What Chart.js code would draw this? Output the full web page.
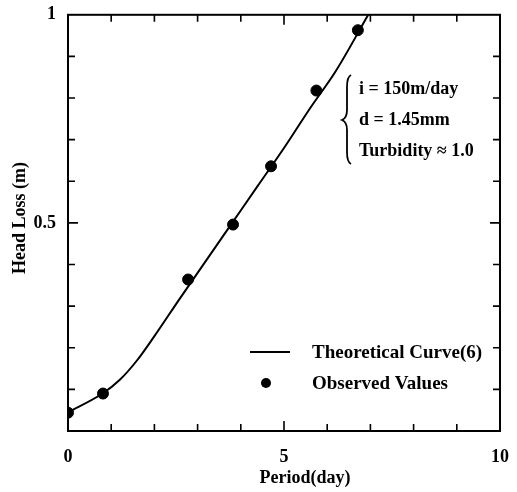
<!DOCTYPE html>
<html>
<head>
<meta charset="utf-8">
<script src="https://cdn.jsdelivr.net/npm/chart.js@4/dist/chart.umd.min.js"></script>
<style>
html, body { margin: 0; padding: 0; background: #fff; }
</style>
</head>
<body>
<canvas id="myChart" width="517" height="492"></canvas>
<script>
// theoretical curve (6)
var curveDays = [0, 0.8, 1.2, 1.6, 2.0, 2.6, 3.2, 3.8, 4.4, 5.0, 5.6, 6.2, 6.95];
var curveHeadLoss = [0.045, 0.09, 0.123, 0.17, 0.228, 0.32, 0.41, 0.5, 0.59, 0.68, 0.775, 0.865, 1.0];
// observed values
var obsDays = [0.0, 0.81, 2.78, 3.82, 4.7, 5.75, 6.71];
var obsHeadLoss = [0.044, 0.09, 0.364, 0.496, 0.636, 0.818, 0.963];

var xTickLabels = [0, 5, 10];
var yTickLabels = [0.5, 1];
var xTitle = 'Period(day)';
var yTitle = 'Head Loss (m)';
var noteLines = ["i = 150m/day", "d = 1.45mm", "Turbidity \u2248 1.0"];

var FONT = "'Liberation Serif', 'DejaVu Serif', serif";

function toPoints(xs, ys) {
    return xs.map(function (x, i) { return { x: x, y: ys[i] }; });
}

var framePlugin = {
    id: 'frame',
    afterDraw: function (chart) {
        var ctx = chart.ctx;
        var a = chart.chartArea;
        var xs = chart.scales.x, ys = chart.scales.y;
        ctx.save();
        ctx.strokeStyle = '#000';
        ctx.lineWidth = 2;
        ctx.strokeRect(a.left, a.top, a.right - a.left, a.bottom - a.top);

        // inward ticks on all four sides
        ctx.lineWidth = 1.6;
        ctx.beginPath();
        for (var v = 1; v < 10; v++) {
            var px = xs.getPixelForValue(v);
            var len = (v % 5 === 0) ? 10 : 7;
            ctx.moveTo(px, a.bottom); ctx.lineTo(px, a.bottom - len);
            ctx.moveTo(px, a.top); ctx.lineTo(px, a.top + len);
        }
        for (var k = 1; k < 10; k++) {
            var py = ys.getPixelForValue(k / 10);
            var l2 = (k === 5) ? 10 : 7;
            ctx.moveTo(a.left, py); ctx.lineTo(a.left + l2, py);
            ctx.moveTo(a.right, py); ctx.lineTo(a.right - l2, py);
        }
        ctx.stroke();

        ctx.fillStyle = '#000';
        ctx.textBaseline = 'middle';

        // axis titles (the scan has the x title a bit right of centre)
        ctx.font = 'bold 18px ' + FONT;
        ctx.textAlign = 'center';
        ctx.fillText(xTitle, 305, 478);
        ctx.save();
        ctx.translate(20, 218);
        ctx.rotate(-Math.PI / 2);
        ctx.fillText(yTitle, 0, 0);
        ctx.restore();

        // legend
        var ds = chart.data.datasets;
        ctx.font = 'bold 19px ' + FONT;
        ctx.textAlign = 'left';
        ctx.lineWidth = 2;
        ctx.beginPath();
        ctx.moveTo(250, 352); ctx.lineTo(290, 352);
        ctx.stroke();
        ctx.fillText(ds[0].label, 312, 353);
        ctx.beginPath();
        ctx.arc(266, 383, 5, 0, Math.PI * 2);
        ctx.fill();
        ctx.fillText(ds[1].label, 312, 384);

        // condition note with brace
        ctx.beginPath();
        ctx.lineWidth = 1.8;
        var bx = 347, top = 75, mid = 120, bot = 164;
        ctx.moveTo(bx + 4, top);
        ctx.quadraticCurveTo(bx, top + 2, bx, top + 12);
        ctx.lineTo(bx, mid - 10);
        ctx.quadraticCurveTo(bx, mid - 2, bx - 5, mid);
        ctx.quadraticCurveTo(bx, mid + 2, bx, mid + 10);
        ctx.lineTo(bx, bot - 12);
        ctx.quadraticCurveTo(bx, bot - 2, bx + 4, bot);
        ctx.stroke();
        ctx.font = 'bold 18px ' + FONT;
        for (var i = 0; i < noteLines.length; i++) {
            ctx.fillText(noteLines[i], 359, 89 + i * 31);
        }
        ctx.restore();
    }
};

new Chart(document.getElementById('myChart'), {
    type: 'scatter',
    data: {
        datasets: [{
            label: 'Theoretical Curve(6)',
            data: toPoints(curveDays, curveHeadLoss),
            showLine: true,
            borderColor: '#000',
            borderWidth: 2,
            pointRadius: 0,
            cubicInterpolationMode: 'monotone',
            order: 2
        }, {
            label: 'Observed Values',
            data: toPoints(obsDays, obsHeadLoss),
            backgroundColor: '#000',
            borderColor: '#000',
            pointRadius: 5.5,
            order: 1
        }]
    },
    options: {
        responsive: false,
        animation: false,
        layout: { padding: { top: 11, right: 14, left: 0, bottom: 0 } },
        plugins: {
            legend: { display: false },
            tooltip: { enabled: false }
        },
        scales: {
            x: {
                type: 'linear',
                min: 0, max: 10,
                afterBuildTicks: function (s) { s.ticks = xTickLabels.map(function (v) { return { value: v }; }); },
                afterFit: function (s) { s.height = 61; },
                grid: { display: false },
                border: { display: false },
                ticks: {
                    color: '#000', padding: 8, maxRotation: 0,
                    callback: function (v) { return String(v); },
                    font: { family: FONT, size: 18, weight: 'bold' }
                }
            },
            y: {
                type: 'linear',
                min: 0, max: 1,
                afterBuildTicks: function (s) { s.ticks = yTickLabels.map(function (v) { return { value: v }; }); },
                afterFit: function (s) { s.width = 68; },
                grid: { display: false },
                border: { display: false },
                ticks: {
                    color: '#000', padding: 4,
                    callback: function (v) { return String(v); },
                    font: { family: FONT, size: 18, weight: 'bold' }
                }
            }
        }
    },
    plugins: [framePlugin]
});
</script>
</body>
</html>
